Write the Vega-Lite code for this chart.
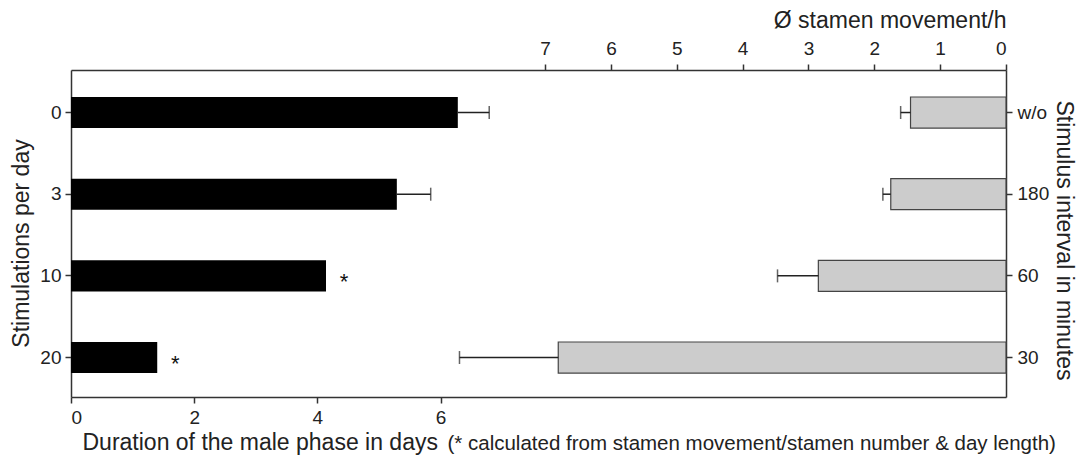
{
  "$schema": "https://vega.github.io/schema/vega-lite/v6.json",
  "width": 935,
  "height": 327,
  "autosize": {"type": "none"},
  "padding": {"left": 71, "top": 70, "right": 70, "bottom": 66},
  "background": "white",
  "config": {
    "view": {"stroke": null},
    "font": "Liberation Sans",
    "axis": {
      "labelFont": "Liberation Sans",
      "titleFont": "Liberation Sans",
      "labelFontSize": 19,
      "titleFontSize": 23,
      "titleFontWeight": "normal",
      "labelColor": "#222",
      "titleColor": "#222",
      "domainColor": "#333",
      "domainWidth": 1.5,
      "tickColor": "#333",
      "tickWidth": 1.5,
      "tickSize": 6,
      "grid": false
    }
  },
  "data": {
    "values": [
      {"stim": "0", "interval": "w/o", "days": 6.28, "days_err": 6.79, "move": 1.45, "move_err": 1.6, "star": ""},
      {"stim": "3", "interval": "180", "days": 5.29, "days_err": 5.84, "move": 1.75, "move_err": 1.87, "star": ""},
      {"stim": "10", "interval": "60", "days": 4.14, "days_err": null, "move": 2.85, "move_err": 3.47, "star": "*"},
      {"stim": "20", "interval": "30", "days": 1.4, "days_err": null, "move": 6.8, "move_err": 8.3, "star": "*"}
    ]
  },
  "layer": [
    {
      "encoding": {
        "y": {
          "field": "stim", "type": "nominal", "sort": ["0", "3", "10", "20"],
          "scale": {"paddingInner": 0.62, "paddingOuter": 0.312, "align": 0.53},
          "axis": {
            "title": "Stimulations per day", "labelPadding": 4, "labelAngle": 0,
            "titleX": -43, "titleY": 173, "titleAlign": "center", "titleBaseline": "alphabetic", "titleAngle": -90
          }
        }
      },
      "layer": [
        {
          "mark": {"type": "bar", "color": "#000000"},
          "encoding": {
            "x": {
              "field": "days", "type": "quantitative",
              "scale": {"domain": [0, 15.18], "nice": false, "zero": true},
              "axis": {
                "orient": "bottom", "values": [0, 2, 4, 6], "format": "d", "labelPadding": 5,
                "title": "Duration of the male phase in days",
                "titleX": 11, "titleY": 52, "titleAlign": "left", "titleBaseline": "alphabetic", "titleAnchor": "start"
              }
            }
          }
        },
        {
          "transform": [{"filter": "isValid(datum.days_err)"}],
          "mark": {"type": "rule", "color": "#222", "strokeWidth": 1.5},
          "encoding": {
            "x": {"field": "days", "type": "quantitative"},
            "x2": {"field": "days_err"}
          }
        },
        {
          "transform": [{"filter": "isValid(datum.days_err)"}],
          "mark": {"type": "tick", "color": "#222", "size": 13, "thickness": 1.5},
          "encoding": {
            "x": {"field": "days_err", "type": "quantitative"}
          }
        }
      ]
    },
    {
      "transform": [{"filter": "datum.star == '*'"}],
      "mark": {"type": "text", "fontSize": 22, "color": "#111", "dx": 18, "dy": 5, "align": "center", "baseline": "middle", "font": "Liberation Sans"},
      "encoding": {
        "y": {
          "field": "stim", "type": "nominal", "sort": ["0", "3", "10", "20"],
          "scale": {"domain": ["0", "3", "10", "20"], "paddingInner": 0.62, "paddingOuter": 0.312, "align": 0.53},
          "axis": null
        },
        "x": {
          "field": "days", "type": "quantitative",
          "scale": {"domain": [0, 15.18], "nice": false, "zero": true},
          "axis": {
            "orient": "bottom", "labels": false, "ticks": false, "domain": false,
            "title": "(* calculated from stamen movement/stamen number & day length)",
            "titleFontSize": 20.5,
            "titleX": 376, "titleY": 52, "titleAlign": "left", "titleBaseline": "alphabetic", "titleAnchor": "start"
          }
        },
        "text": {"field": "star"}
      }
    },
    {
      "encoding": {
        "y": {
          "field": "interval", "type": "nominal", "sort": ["w/o", "180", "60", "30"],
          "scale": {"paddingInner": 0.62, "paddingOuter": 0.312, "align": 0.53},
          "axis": {
            "orient": "right", "title": "Stimulus interval in minutes", "labelPadding": 5, "labelAngle": 0,
            "titleX": 50, "titleY": 170, "titleAlign": "center", "titleBaseline": "alphabetic", "titleAngle": 90
          }
        }
      },
      "layer": [
        {
          "mark": {"type": "bar", "color": "#cccccc", "stroke": "#444444", "strokeWidth": 1.2},
          "encoding": {
            "x": {
              "field": "move", "type": "quantitative",
              "scale": {"domain": [0, 14.2], "nice": false, "zero": true, "reverse": true},
              "axis": {
                "orient": "top", "values": [0, 1, 2, 3, 4, 5, 6, 7], "format": "d", "labelPadding": 6,
                "title": "Ø stamen movement/h",
                "titleX": 935, "titleY": -43, "titleAlign": "right", "titleBaseline": "alphabetic"
              }
            }
          }
        },
        {
          "mark": {"type": "rule", "color": "#222", "strokeWidth": 1.5},
          "encoding": {
            "x": {"field": "move", "type": "quantitative"},
            "x2": {"field": "move_err"}
          }
        },
        {
          "mark": {"type": "tick", "color": "#222", "size": 13, "thickness": 1.5},
          "encoding": {
            "x": {"field": "move_err", "type": "quantitative"}
          }
        }
      ]
    }
  ],
  "resolve": {
    "scale": {"x": "independent", "y": "independent"},
    "axis": {"x": "independent", "y": "independent"}
  }
}
